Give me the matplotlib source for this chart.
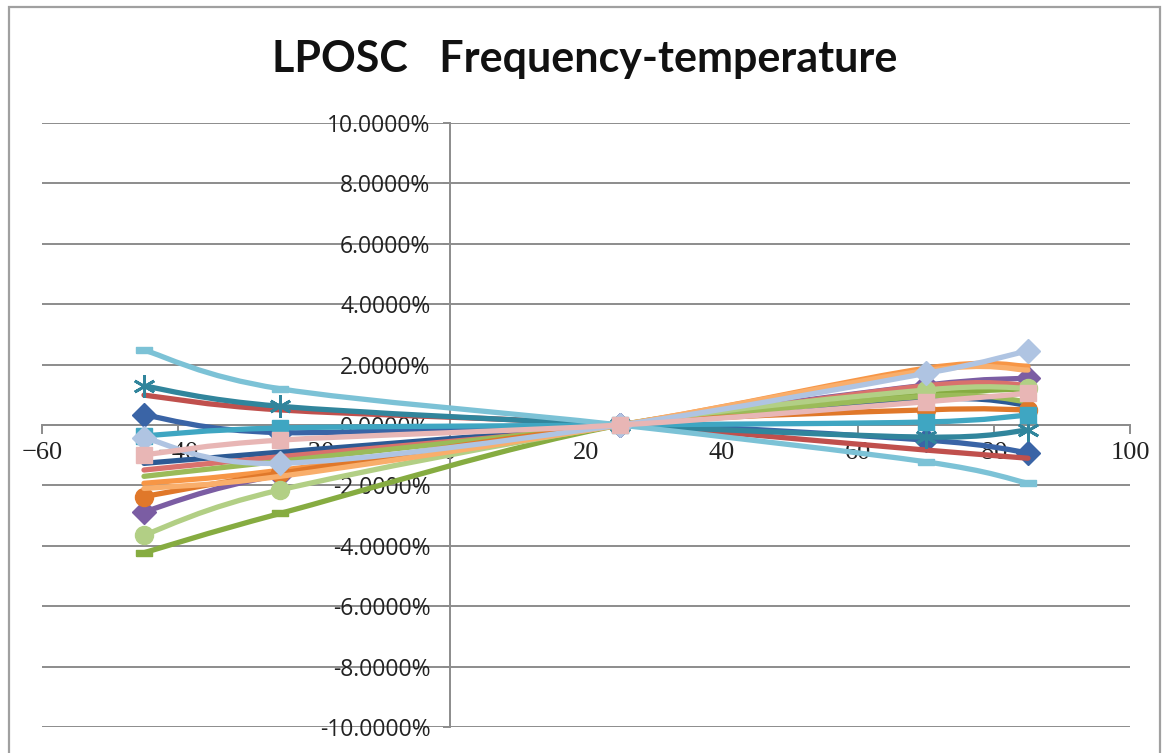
import numpy as np
import matplotlib
matplotlib.use("Agg")
import matplotlib.pyplot as plt
from matplotlib.path import Path
from matplotlib.patches import PathPatch, Rectangle
from matplotlib.ticker import FuncFormatter, MultipleLocator

###############################################################################
# Data (frequency deviation in %, vs temperature)
temps = [-45, -25, 25, 70, 85]

s_blue_dia   = [0.33, -0.25, 0.0, -0.50, -0.92]
s_red        = [0.99, 0.50, 0.0, -0.83, -1.10]
s_green      = [-4.23, -2.93, 0.0, 1.00, 1.20]
s_purple     = [-2.87, -1.65, 0.0, 1.32, 1.55]
s_teal_star  = [1.29, 0.62, 0.0, -0.40, -0.17]
s_orange     = [-1.93, -1.50, 0.0, 1.88, 1.95]
s_navy       = [-1.27, -0.90, 0.0, 0.85, 0.66]
s_salmon     = [-1.49, -1.05, 0.0, 1.30, 1.32]
s_olive      = [-1.70, -1.20, 0.0, 0.95, 0.77]
s_orange_dk  = [-2.37, -1.60, 0.0, 0.50, 0.50]
s_teal_sq    = [-0.36, -0.10, 0.0, 0.10, 0.33]
s_lightblue  = [2.48, 1.20, 0.0, -1.22, -1.93]
s_lightgreen = [-3.64, -2.15, 0.0, 1.16, 1.22]
s_gold       = [-2.10, -1.70, 0.0, 1.80, 1.82]
s_pale_dia   = [-0.43, -1.27, 0.0, 1.71, 2.46]
s_pink_sq    = [-0.99, -0.50, 0.0, 0.77, 1.05]

# (values, color, marker)
dash = [(-1, -0.35), (1, -0.35), (1, 0.35), (-1, 0.35), (-1, -0.35)]
series = [
    (s_blue_dia, '#3A64A6', 'D'),
    (s_red, '#C0504D', None),
    (s_green, '#86AC41', dash),
    (s_purple, '#7B5DA3', 'D'),
    (s_teal_star, '#31859C', (6, 2, 0)),
    (s_orange, '#F79646', None),
    (s_navy, '#2C5A94', None),
    (s_salmon, '#D9716C', None),
    (s_olive, '#9BBB59', None),
    (s_orange_dk, '#E0782A', 'o'),
    (s_teal_sq, '#3FA6C2', 's'),
    (s_lightblue, '#7CC2D6', dash),
    (s_lightgreen, '#B2CF85', 'o'),
    (s_gold, '#F9AE6B', None),
    (s_pale_dia, '#AFC4E2', 'D'),
    (s_pink_sq, '#E8B6B5', 's'),
]

###############################################################################
def smooth_path(xs, ys):
    # Excel style smoothed line (bezier through the points)
    p = np.column_stack([xs, ys]).astype(float)
    n = len(p)
    verts = [p[0]]
    codes = [Path.MOVETO]
    for i in range(n - 1):
        p0 = p[i - 1] if i > 0 else p[i]
        p3 = p[i + 2] if i + 2 < n else p[i + 1]
        c1 = p[i] + (p[i + 1] - p0) / 6.0
        c2 = p[i + 1] - (p3 - p[i]) / 6.0
        verts += [c1, c2, p[i + 1]]
        codes += [Path.CURVE4] * 3
    return Path(verts, codes)


fig = plt.figure(figsize=(11.62, 7.53), dpi=100)
fig.patches.append(Rectangle((9 / 1162, -0.05), 1151 / 1162, 1.05 - 7 / 753,
                             transform=fig.transFigure, fill=False,
                             ec='#A0A0A0', lw=1.6))
ax = fig.add_axes([42 / 1162, 1 - 727 / 753, 1088 / 1162, 604 / 753])

grey = '#8C8C8C'
for k, (vals, col, mk) in enumerate(series):
    z = 3 + k * 0.1
    ax.add_patch(PathPatch(smooth_path(temps, vals), fill=False, ec=col,
                           lw=3.8, capstyle='round', joinstyle='round', zorder=z))
    if mk is not None:
        if mk == (6, 2, 0):
            ax.plot(temps, vals, ls='none', marker=mk, ms=16, mec=col,
                    mew=2, zorder=z + 0.05)
        else:
            ax.plot(temps, vals, ls='none', marker=mk, ms=12 if mk != 'o' else 13,
                    color=col, mec=col, zorder=z + 0.05)

ax.set_xlim(-60, 100)
ax.set_ylim(-10, 10)
ax.xaxis.set_major_locator(MultipleLocator(20))
ax.yaxis.set_major_locator(MultipleLocator(2))
ax.yaxis.set_major_formatter(FuncFormatter(lambda v, p: f"{v:.4f}%"))

ax.spines['top'].set_visible(False)
ax.spines['right'].set_visible(False)
ax.spines['left'].set_position(('data', 0))
ax.spines['bottom'].set_position(('data', 0))
for s in ['left', 'bottom']:
    ax.spines[s].set_color(grey)
    ax.spines[s].set_linewidth(1.4)
    ax.spines[s].set_zorder(1)

ax.grid(True, axis='y', color=grey, lw=1.4)
ax.set_axisbelow(True)
ax.tick_params(axis='x', direction='out', length=6.5, width=1.4, color=grey, pad=6)
ax.tick_params(axis='y', direction='out', length=5, width=1.4, color=grey, pad=9)
for t in ax.get_xticklabels():
    t.set_fontfamily('Liberation Serif')
    t.set_fontsize(19)
    t.set_color('#222222')
for t in ax.get_yticklabels():
    t.set_fontfamily('Open Sans')
    t.set_fontsize(16.5)
    t.set_color('#222222')
ax.patch.set_alpha(0)

fig.text(585 / 1162, 1 - 59 / 753, 'LPOSC   Frequency-temperature',
         ha='center', va='center', fontsize=31, fontweight='bold',
         family='Lato', color='#111111')

fig.savefig('out.png', dpi=100)
print('Completed')
